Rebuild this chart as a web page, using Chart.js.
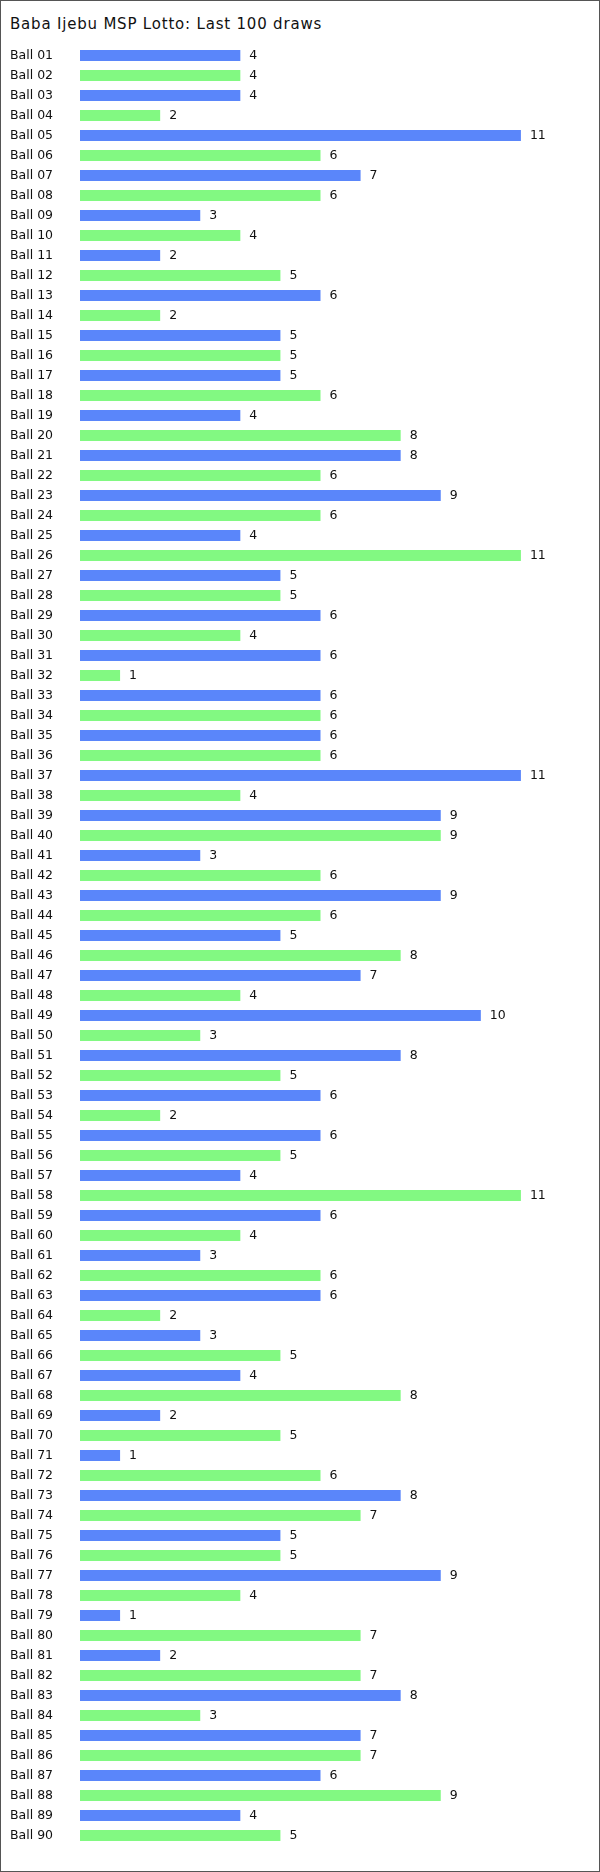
<!DOCTYPE html>
<html lang="en">
<head>
  <meta charset="UTF-8">
  <title>Baba Ijebu MSP Lotto: Last 100 draws</title>
  <script src="https://cdn.jsdelivr.net/npm/chart.js"></script>
  <style>
    body {
      margin: 0;
      background: #fff;
      font-family: "DejaVu Sans", Verdana, sans-serif;
    }

    .frame {
      position: relative;
      width: 600px;
      height: 1872px;
      box-sizing: border-box;
      border: 1px solid #555;
      background: #fff;
    }

    .title {
      position: absolute;
      left: 9px;
      top: 15px;
      font-size: 15px;
      letter-spacing: 0.8px;
      line-height: 17px;
      color: #111;
      white-space: nowrap;
    }

    .chart-box {
      position: absolute;
      left: 0;
      top: 0;
      width: 598px;
      height: 1870px;
    }
  </style>
</head>
<body>

<div class="frame">
  <div class="title">Baba Ijebu MSP Lotto: Last 100 draws</div>
  <div class="chart-box">
    <canvas id="chart"></canvas>
  </div>
</div>

<script>
  // ball numbers 01..90
  const balls = [
    "01","02","03","04","05","06","07","08","09","10",
    "11","12","13","14","15","16","17","18","19","20",
    "21","22","23","24","25","26","27","28","29","30",
    "31","32","33","34","35","36","37","38","39","40",
    "41","42","43","44","45","46","47","48","49","50",
    "51","52","53","54","55","56","57","58","59","60",
    "61","62","63","64","65","66","67","68","69","70",
    "71","72","73","74","75","76","77","78","79","80",
    "81","82","83","84","85","86","87","88","89","90"
  ];

  // times drawn in the last 100 draws
  const counts = [
    4, 4, 4, 2, 11, 6, 7, 6, 3, 4,
    2, 5, 6, 2, 5, 5, 5, 6, 4, 8,
    8, 6, 9, 6, 4, 11, 5, 5, 6, 4,
    6, 1, 6, 6, 6, 6, 11, 4, 9, 9,
    3, 6, 9, 6, 5, 8, 7, 4, 10, 3,
    8, 5, 6, 2, 6, 5, 4, 11, 6, 4,
    3, 6, 6, 2, 3, 5, 4, 8, 2, 5,
    1, 6, 8, 7, 5, 5, 9, 4, 1, 7,
    2, 7, 8, 3, 7, 7, 6, 9, 4, 5
  ];

  const labels = balls.map(b => "Ball " + b);
  const colors = balls.map((b, i) => i % 2 === 0 ? "#5a86fa" : "#82f982");

  // draws the count just right of each bar
  const valueLabels = {
    id: "valueLabels",
    afterDatasetsDraw(chart) {
      const ctx = chart.ctx;
      const meta = chart.getDatasetMeta(0);
      ctx.save();
      ctx.font = '12.5px "DejaVu Sans", Verdana, sans-serif';
      ctx.fillStyle = "#111";
      ctx.textAlign = "left";
      ctx.textBaseline = "middle";
      meta.data.forEach((bar, i) => {
        ctx.fillText(String(counts[i]), bar.x + 9, bar.y + 0.5);
      });
      ctx.restore();
    }
  };

  new Chart(document.getElementById("chart"), {
    type: "bar",
    data: {
      labels: labels,
      datasets: [{
        data: counts,
        backgroundColor: colors,
        borderWidth: 0,
        categoryPercentage: 1,
        barPercentage: 0.55
      }]
    },
    options: {
      indexAxis: "y",
      responsive: true,
      maintainAspectRatio: false,
      animation: false,
      layout: {
        padding: { left: 9, right: 38, top: 44.5, bottom: 25.5 }
      },
      plugins: {
        legend: { display: false },
        title: { display: false },
        tooltip: { enabled: false }
      },
      scales: {
        x: {
          display: false,
          min: 0,
          max: 12
        },
        y: {
          grid: { display: false },
          border: { display: false },
          ticks: {
            crossAlign: "far",
            color: "#111",
            autoSkip: false,
            font: { family: '"DejaVu Sans", Verdana, sans-serif', size: 12.5 }
          },
          afterFit(scale) {
            scale.width = 70;
          }
        }
      }
    },
    plugins: [valueLabels]
  });
</script>

</body>
</html>
